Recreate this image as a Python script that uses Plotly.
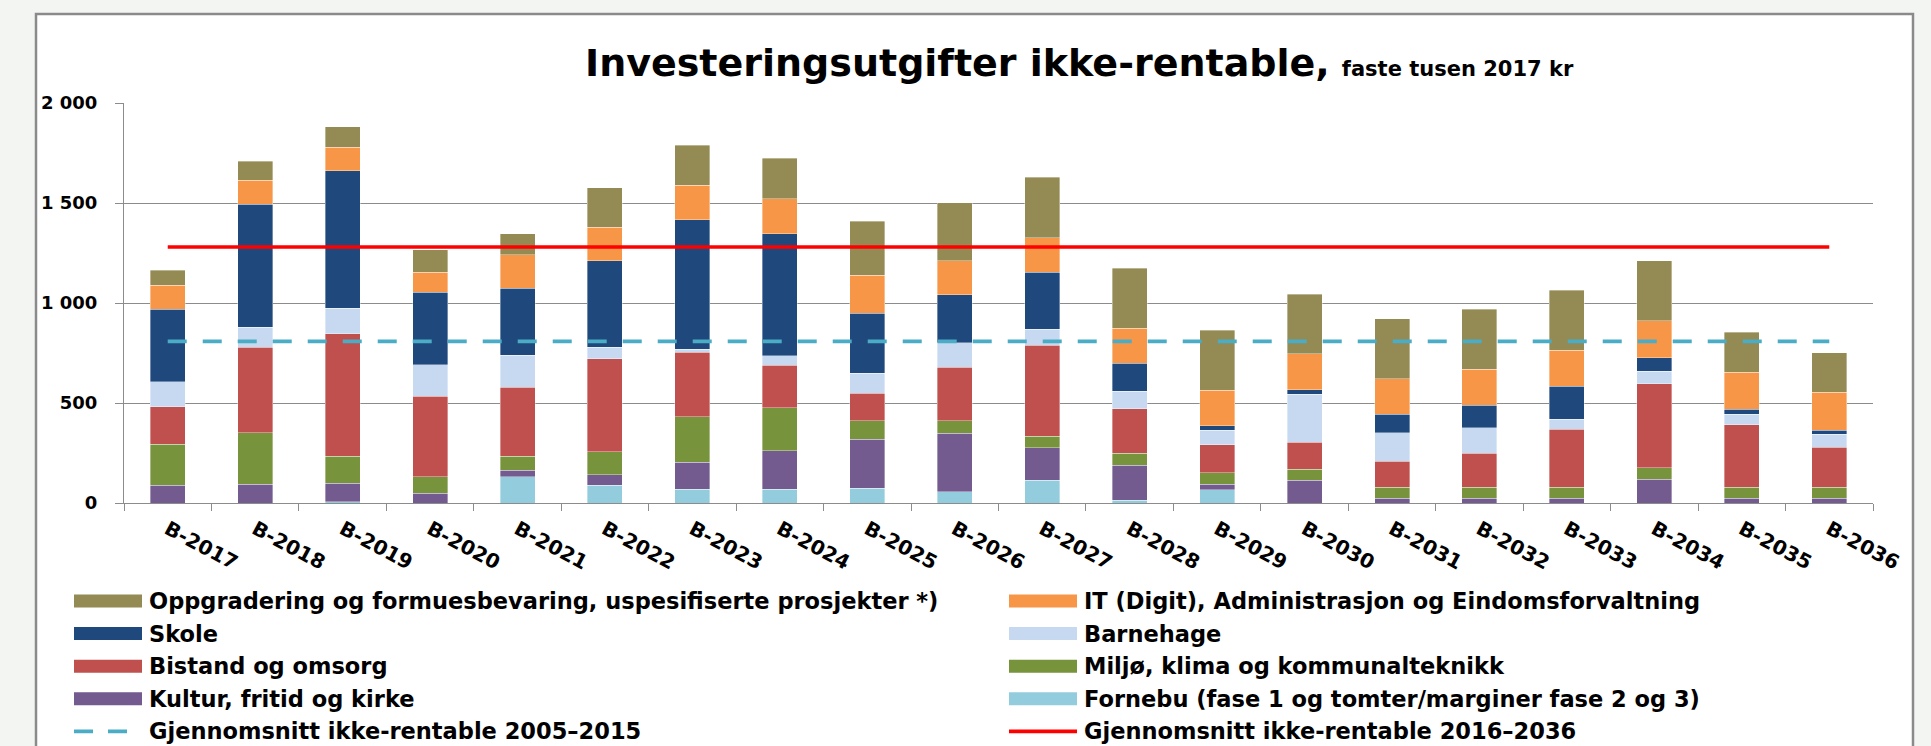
import plotly.graph_objects as go

# ---------------- data ----------------
categories = ["B-2017", "B-2018", "B-2019", "B-2020", "B-2021", "B-2022", "B-2023",
              "B-2024", "B-2025", "B-2026", "B-2027", "B-2028", "B-2029", "B-2030",
              "B-2031", "B-2032", "B-2033", "B-2034", "B-2035", "B-2036"]

fornebu   = [0, 0, 7, 0, 132, 90, 70, 70, 75, 57, 115, 15, 67, 0, 0, 0, 0, 0, 0, 0]
kultur    = [90, 95, 93, 48, 33, 52, 135, 192, 244, 292, 162, 175, 28, 115, 23, 25, 25, 120, 25, 23]
miljo     = [205, 257, 134, 84, 69, 115, 226, 215, 92, 62, 57, 59, 57, 55, 57, 55, 55, 56, 55, 57]
bistand   = [186, 426, 612, 402, 344, 464, 322, 211, 138, 267, 454, 223, 140, 135, 130, 170, 288, 420, 312, 200]
barnehage = [125, 100, 127, 157, 162, 57, 15, 48, 100, 123, 82, 87, 72, 238, 142, 127, 52, 63, 51, 63]
skole     = [362, 616, 688, 364, 333, 434, 649, 610, 301, 241, 285, 139, 23, 23, 92, 111, 163, 67, 25, 22]
it_adm    = [120, 119, 119, 100, 169, 167, 172, 176, 190, 170, 172, 175, 176, 180, 177, 182, 180, 186, 185, 189]
oppgr     = [76, 96, 101, 112, 104, 197, 201, 201, 269, 290, 301, 302, 302, 299, 301, 299, 300, 300, 201, 197]

avg_2005_2015 = 808
avg_2016_2036 = 1280

y_tickvals = [0, 500, 1000, 1500, 2000]
y_ticktext = ["0", "500", "1 000", "1 500", "2 000"]

names = {
    "oppgr": "Oppgradering og formuesbevaring, uspesifiserte prosjekter *)",
    "it": "IT (Digit), Administrasjon og Eindomsforvaltning",
    "skole": "Skole",
    "barnehage": "Barnehage",
    "bistand": "Bistand og omsorg",
    "miljo": "Miljø, klima og kommunalteknikk",
    "kultur": "Kultur, fritid og kirke",
    "fornebu": "Fornebu (fase 1 og tomter/marginer fase 2 og 3)",
    "avg1": "Gjennomsnitt ikke-rentable 2005\u20132015",
    "avg2": "Gjennomsnitt ikke-rentable 2016\u20132036",
}
colors = {
    "oppgr": "#948A54", "it": "#F79646", "skole": "#1F497D", "barnehage": "#C6D9F1",
    "bistand": "#C0504D", "miljo": "#77933C", "kultur": "#735A8F", "fornebu": "#93CDDD",
    "avg1": "#4BACC6", "avg2": "#FF0000",
}

# stacking order bottom -> top
stack = [("fornebu", fornebu), ("kultur", kultur), ("miljo", miljo), ("bistand", bistand),
         ("barnehage", barnehage), ("skole", skole), ("it", it_adm), ("oppgr", oppgr)]
legend_order = ["oppgr", "it", "skole", "barnehage", "bistand", "miljo", "kultur", "fornebu", "avg1", "avg2"]

# ---------------- layout geometry (pixels) ----------------
W, H = 1931, 746
ML, MR, MT, MB = 124, 58, 103, 243
PW, PH = W - ML - MR, H - MT - MB


def px_x(px):
    return (px - ML) / PW


def px_y(py):
    return (H - MB - py) / PH


FONT = "DejaVu Sans"

fig = go.Figure()
for key, vals in stack:
    fig.add_trace(go.Bar(x=categories, y=vals, name=names[key],
                         marker=dict(color=colors[key], line=dict(width=0.6, color="rgba(255,255,255,0.6)")),
                         showlegend=False, hoverinfo="x+y+name"))

fig.add_trace(go.Scatter(x=categories, y=[avg_2005_2015] * len(categories), mode="lines",
                         name=names["avg1"], showlegend=False,
                         line=dict(color=colors["avg1"], width=3.6, dash="19px,16px")))
fig.add_trace(go.Scatter(x=categories, y=[avg_2016_2036] * len(categories), mode="lines",
                         name=names["avg2"], showlegend=False,
                         line=dict(color=colors["avg2"], width=3.6)))

shapes = [dict(type="rect", xref="paper", yref="paper", layer="below",
               x0=px_x(36), x1=px_x(1913), y0=px_y(820), y1=px_y(14),
               fillcolor="white", line=dict(color="#8a8a8a", width=2.5))]
annotations = []

# custom legend (two columns)
col_x = [74, 1009]
row_y0, row_dy = 601, 32.6
for i, key in enumerate(legend_order):
    r, c = divmod(i, 2)
    sx0 = col_x[c]
    sx1 = sx0 + 68
    cy = row_y0 + r * row_dy
    if key == "avg1":
        shapes.append(dict(type="line", xref="paper", yref="paper", x0=px_x(sx0), x1=px_x(sx1),
                           y0=px_y(cy), y1=px_y(cy), line=dict(color=colors[key], width=3.6, dash="19px,15px")))
    elif key == "avg2":
        shapes.append(dict(type="line", xref="paper", yref="paper", x0=px_x(sx0), x1=px_x(sx1),
                           y0=px_y(cy), y1=px_y(cy), line=dict(color=colors[key], width=3.6)))
    else:
        shapes.append(dict(type="rect", xref="paper", yref="paper", x0=px_x(sx0), x1=px_x(sx1),
                           y0=px_y(cy + 6.5), y1=px_y(cy - 6.5), fillcolor=colors[key],
                           line=dict(width=0)))
    annotations.append(dict(xref="paper", yref="paper", x=px_x(sx1 + 6), y=px_y(cy),
                            xanchor="left", yanchor="middle", showarrow=False, borderpad=0,
                            text=names[key], font=dict(family=FONT, size=22.5, color="black", weight="bold")))

fig.update_layout(
    width=W, height=H,
    margin=dict(l=ML, r=MR, t=MT, b=MB, autoexpand=False),
    paper_bgcolor="#F3F5F3", plot_bgcolor="white",
    barmode="stack", bargap=0.6,
    showlegend=False,
    title=dict(text="<b>Investeringsutgifter ikke-rentable,</b> <b><span style='font-size:21px'>faste tusen 2017 kr</span></b>",
               font=dict(family=FONT, size=38, color="black"),
               x=585 / W, xanchor="left", xref="container",
               y=1 - 63 / H, yanchor="middle", yref="container"),
    shapes=shapes,
    annotations=annotations,
    font=dict(family=FONT, color="black"),
)

fig.update_yaxes(range=[0, 2000], tickvals=y_tickvals, ticktext=y_ticktext,
                 showgrid=True, gridcolor="#8c8c8c", gridwidth=1, zeroline=False,
                 showline=True, linecolor="#8c8c8c", linewidth=1,
                 ticks="outside", ticklen=8, tickcolor="#8c8c8c",
                 ticklabelstandoff=14,
                 tickfont=dict(family=FONT, size=18, color="black", weight="bold"))
fig.update_xaxes(type="category", tickangle=28, tickson="boundaries",
                 ticks="outside", ticklen=7, tickcolor="#8c8c8c",
                 showline=True, linecolor="#8c8c8c", linewidth=1, showgrid=False,
                 ticklabelstandoff=6,
                 tickfont=dict(family=FONT, size=20, color="black", weight="bold"))

fig.write_html("out.html", config={"displayModeBar": False},
               post_script="document.body.style.margin='0';document.body.style.overflow='hidden';")
